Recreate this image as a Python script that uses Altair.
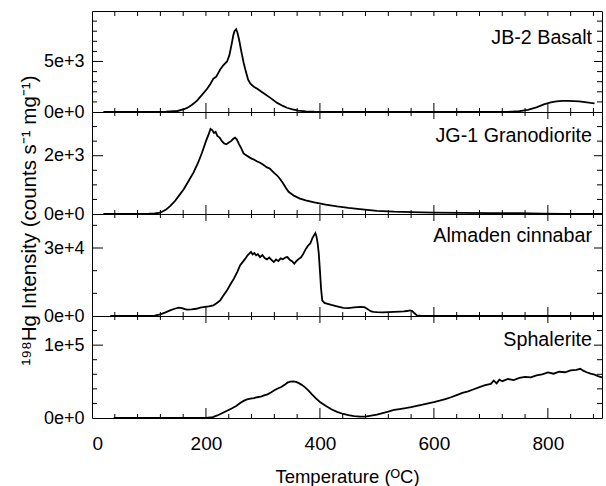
import altair as alt
import pandas as pd

# ---------------- data ----------------
names = ["JB-2 Basalt", "JG-1 Granodiorite", "Almaden cinnabar", "Sphalerite"]

basalt_T = [20, 60, 100, 130, 150, 160, 167, 175, 184, 193, 202, 208, 213, 218, 222,
            225, 230, 237, 241, 245, 248, 250, 253, 255, 258, 262, 266, 270, 274, 278,
            284, 290, 300, 313, 325, 335, 342, 352, 362, 375, 390, 420, 500, 600, 700,
            730, 750, 765, 780, 793, 805, 815, 825, 835, 845, 855, 865, 875, 882]
basalt_v = [0, 0, 0, 30, 100, 250, 400, 700, 1100, 1700, 2300, 2800, 3300, 3500, 3900,
            4200, 4600, 5000, 5600, 6700, 7600, 8000, 8200, 7900, 7200, 6000, 4900, 4000, 3200, 2800,
            2500, 2300, 1900, 1400, 900, 600, 420, 250, 130, 60, 30, 10, 0, 0, 0,
            20, 80, 200, 450, 750, 950, 1050, 1100, 1100, 1080, 1050, 980, 900, 860]

grano_T = [20, 60, 100, 110, 120, 130, 137, 145, 153, 161, 170, 178, 186, 193, 200,
           205, 208, 211, 214, 217, 220, 224, 228, 232, 236, 240, 244, 248, 251, 254,
           258, 262, 266, 270, 275, 280, 284, 290, 295, 300, 307, 312, 316, 320, 325,
           330, 335, 340, 345, 355, 365, 375, 390, 410, 430, 450, 470, 500, 530, 560,
           600, 650, 700, 750, 790, 830, 860, 895]
grano_v = [0, 0, 10, 20, 45, 150, 270, 430, 640, 850, 1150, 1420, 1750, 2100, 2500,
           2750, 2920, 2880, 2780, 2820, 2680, 2620, 2500, 2420, 2390, 2450, 2500, 2580, 2620, 2560,
           2400, 2250, 2080, 2020, 1960, 1900, 1870, 1800, 1760, 1700, 1600, 1560, 1480, 1400, 1320,
           1200, 1060, 900, 760, 620, 530, 470, 400, 320, 260, 210, 170, 110, 80, 65,
           50, 40, 30, 25, 8, 5, 5, 0]

cinn_T = [32, 80, 100, 110, 120, 128, 137, 145, 152, 158, 163, 167, 175, 183, 190,
          198, 205, 213, 218, 222, 225, 230, 237, 243, 249, 255, 260, 265, 269, 273,
          276, 279, 282, 285, 288, 291, 295, 299, 303, 307, 311, 315, 319, 323, 327,
          331, 335, 339, 343, 347, 351, 355, 359, 363, 367, 371, 375, 379, 383, 387,
          390, 392, 394, 396, 398, 400, 402, 404, 408, 412, 420, 430, 441, 450, 460,
          471, 478, 482, 486, 490, 494, 500, 510, 520, 530, 540, 547, 553, 558, 562,
          566, 570, 578, 590, 650, 750, 895]
cinn_v = [0, 0, 50, 200, 700, 1500, 2500, 3200, 3700, 3500, 3000, 2800, 2900, 3200, 3700,
          4000, 4200, 4700, 5500, 6300, 6900, 8800, 11300, 14000, 16500, 19500, 22400, 24000, 25300, 26800,
          27500, 28300, 27200, 27800, 26800, 27300, 26000, 26900, 25600, 25000, 25800, 24800, 23800, 24900, 24200,
          25400, 25000, 25800, 26000, 24800, 24200, 23100, 24300, 25200, 25900, 27500, 29500, 31000, 32000, 34500,
          35800, 36600, 35000, 32000, 27500, 20000, 12000, 6900, 5800, 5500, 4900, 4300, 3600, 3500, 3800,
          4000, 3900, 3300, 2600, 2000, 1800, 1700, 1600, 1700, 1800, 1900, 2000, 2200, 2500, 2200,
          1200, 300, 50, 0, 0, 0, 0]

sphal_T = [38, 100, 150, 200, 212, 220, 228, 237, 245, 253, 260, 266, 272, 278, 284,
           290, 296, 302, 308, 314, 320, 326, 332, 338, 343, 348, 353, 358, 363, 368,
           374, 380, 386, 393, 400, 410, 420, 430, 441, 450, 460, 471, 480, 490, 500,
           510, 520, 530, 540, 550, 560, 570, 580, 590, 600, 610, 620, 630, 640, 650,
           660, 670, 680, 690, 700, 705, 710, 715, 720, 730, 740, 750, 760, 770, 780,
           790, 800, 810, 820, 830, 840, 850, 857, 862, 868, 875, 882, 888, 895]
sphal_v = [0, 0, 0, 0, 1200, 3500, 6500, 10000, 13000, 16500, 20500, 23500, 25500, 26500, 27400,
           28500, 29200, 31000, 32500, 35000, 38000, 40500, 42500, 45500, 48500, 49800, 50200, 49500, 47800, 45500,
           42000, 37500, 32500, 27000, 22000, 16800, 12000, 8500, 5500, 3800, 2500, 1800, 2000, 3200, 4500,
           6800, 8800, 11000, 12300, 13500, 15000, 16800, 18200, 20000, 21800, 23800, 26000, 28500, 31500, 34500,
           36500, 39500, 42500, 45000, 46800, 51500, 47500, 52500, 50500, 53500, 52000, 55000, 56500, 55800, 58500,
           60000, 62500, 60800, 63500, 62800, 65500, 66000, 67500, 65000, 62800, 61000, 59500, 57500, 55600]

series_T = [basalt_T, grano_T, cinn_T, sphal_T]
series_v = [basalt_v, grano_v, cinn_v, sphal_v]

y_max = [10000, 3500, 45000, 140000]
y_labels = [[0, 5000], [0, 2000], [0, 30000], [0, 100000]]
y_minor = [[1000, 2000, 3000, 4000, 6000, 7000, 8000, 9000],
           [500, 1000, 1500, 2500, 3000],
           [10000, 20000, 40000],
           [20000, 40000, 60000, 80000, 120000]]
y_major = [[5000], [2000], [30000], [100000]]

x_labels = [0, 200, 400, 600, 800]
x_major = [200, 400, 600, 800]
x_minor = [40, 80, 120, 160, 240, 280, 320, 360, 440, 480, 520, 560,
           640, 680, 720, 760, 840, 880]
x_domain = [0, 895]

# ---------------- layout / style ----------------
FONT = "Liberation Sans"
W = 510
H = [101, 102, 102, 102]
label_y = [27, 24, 22, 24]

panels = []
for i in range(4):
    h = H[i]
    xs = alt.Scale(domain=x_domain, nice=False, zero=False)
    ys = alt.Scale(domain=[0, y_max[i]], nice=False)
    if i == 3:
        xaxis = alt.Axis(values=x_labels, format="d", ticks=False, tickSize=0, domain=False,
                         grid=False, labelFontSize=19, labelPadding=16, labelFont=FONT,
                         labelColor="black", title="Temperature (ᴼC)", titleFont=FONT,
                         titleFontSize=18.5, titleFontWeight="normal", titleColor="black",
                         titlePadding=14)
    else:
        xaxis = None
    yaxis_kw = dict(values=y_labels[i], format=".0e", ticks=False, tickSize=0, domain=False,
                    grid=False, labelFontSize=18, labelPadding=8, labelFont=FONT,
                    labelColor="black")
    if i == 1:
        yaxis = alt.Axis(title="¹⁹⁸Hg Intensity (counts s⁻¹ mg⁻¹)", titleFont=FONT,
                         titleFontSize=20.5, titleFontWeight="normal", titleColor="black",
                         titleAngle=270, titleX=-63, titleY=h + 6, titleAlign="center",
                         titleBaseline="middle", **yaxis_kw)
    else:
        yaxis = alt.Axis(title=None, **yaxis_kw)

    def rules_x(vals, y0, y1):
        return alt.Chart(pd.DataFrame({"T": vals})).mark_rule(color="black", strokeWidth=1).encode(
            x=alt.X("T:Q", scale=xs, axis=xaxis),
            y=alt.value(y0), y2=alt.value(y1))

    def rules_y(vals, x0, x1):
        return alt.Chart(pd.DataFrame({"v": vals})).mark_rule(color="black", strokeWidth=1).encode(
            y=alt.Y("v:Q", scale=ys, axis=yaxis),
            x=alt.value(x0), x2=alt.value(x1))

    df = pd.DataFrame({"T": series_T[i], "v": series_v[i]})
    line = alt.Chart(df).mark_line(color="black", strokeWidth=1.8, clip=True).encode(
        x=alt.X("T:Q", scale=xs, axis=xaxis),
        y=alt.Y("v:Q", scale=ys, axis=yaxis),
        order="T:Q")

    top_major = 5 if i == 0 else 7
    top_minor = 5 if i == 0 else 4
    bot_major = 10 if i == 3 else 9
    layers = [
        line,
        rules_x(x_minor, 0, top_minor),
        rules_x(x_major, 0, top_major),
        rules_x(x_minor, h, h - 4),
        rules_x(x_major, h, h - bot_major),
        rules_y(y_minor[i], 0, 5),
        rules_y(y_major[i], 0, 11),
        rules_y(y_minor[i], W, W - 5),
        rules_y(y_major[i], W, W - 8),
        alt.Chart(pd.DataFrame({"name": [names[i]]})).mark_text(
            align="right", baseline="middle", font=FONT, fontSize=19.7, color="black").encode(
            text="name:N", x=alt.value(W - 10), y=alt.value(label_y[i])),
    ]
    panels.append(alt.layer(*layers).properties(width=W, height=h))

chart = alt.vconcat(*panels, spacing=0, bounds="flush").properties(
    padding={"left": 18, "top": 10, "right": 0, "bottom": 0},
    background="white",
).configure_view(stroke="black", strokeWidth=1).configure_concat(spacing=0)

chart.save("out.html", embed_options={"renderer": "svg", "actions": False})
